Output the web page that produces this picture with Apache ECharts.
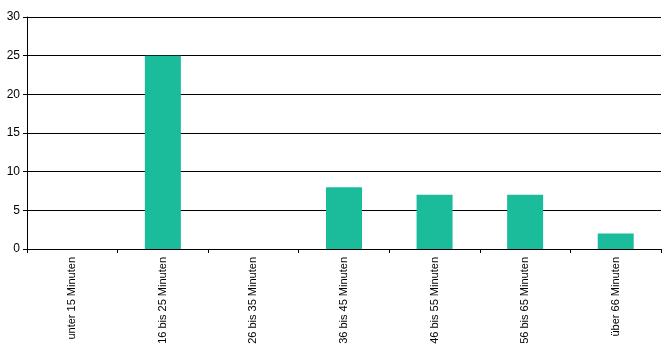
<!DOCTYPE html>
<html><head><meta charset="utf-8">
<script src="https://cdn.jsdelivr.net/npm/echarts@6/dist/echarts.min.js"></script>
<style>html,body{margin:0;padding:0;background:#fff}#c{width:670px;height:350px}</style>
</head><body><div id="c"></div>
<script>
var categories = ["unter 15 Minuten","16 bis 25 Minuten","26 bis 35 Minuten","36 bis 45 Minuten","46 bis 55 Minuten","56 bis 65 Minuten","über 66 Minuten"];
var values = [0, 25, 0, 8, 7, 7, 2];
var chart = echarts.init(document.getElementById('c'), null, {renderer:'canvas'});
chart.setOption({
  animation:false,
  grid:{left:27,right:9,top:17,bottom:101,containLabel:false},
  xAxis:{type:'category',data:categories,
    axisLine:{lineStyle:{color:'#000',width:1}},
    axisTick:{show:true,length:4,lineStyle:{color:'#000'},alignWithLabel:false},
    axisLabel:{rotate:90,interval:0,color:'#000',fontFamily:'Liberation Sans, Arial',fontSize:11,margin:8}},
  yAxis:{type:'value',min:0,max:30,interval:5,
    axisLine:{show:true,lineStyle:{color:'#000',width:1}},
    axisTick:{show:true,length:4,lineStyle:{color:'#000'}},
    splitLine:{lineStyle:{color:'#000',width:1}},
    axisLabel:{color:'#000',fontFamily:'Liberation Sans, Arial',fontSize:12,margin:7}},
  series:[{type:'bar',data:values,barWidth:36,itemStyle:{color:'#1ABC9C'}}]
});
</script></body></html>
